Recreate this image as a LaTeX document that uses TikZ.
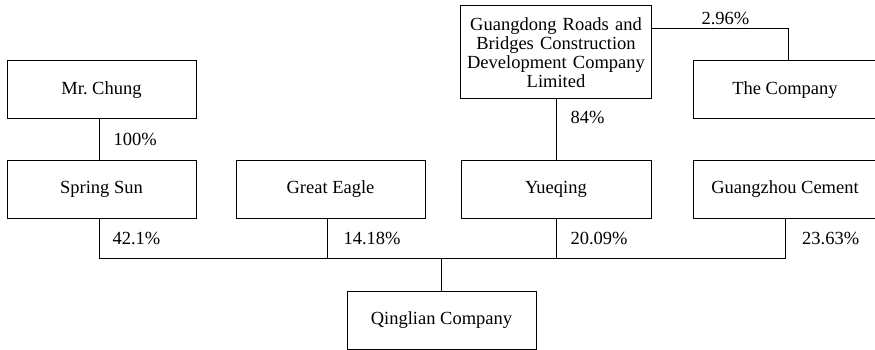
\documentclass[tikz,border=0pt]{standalone}
\usepackage{fontspec}
\setmainfont{Liberation Serif}
\usetikzlibrary{positioning}

\tikzset{
  box/.style={draw, line width=1pt, minimum width=189pt, minimum height=58pt,
    inner sep=2pt, align=center, font=\fontsize{18.5}{19}\selectfont},
  link/.style={line width=1pt},
  pct/.style={anchor=west, inner sep=0pt, xshift=13pt, font=\fontsize{18.5}{19}\selectfont}
}

\begin{document}
\begin{tikzpicture}

  \useasboundingbox (0pt,0pt) rectangle (875pt,-350pt);

  % Define nodes
  \node[box] (spring) at (101.5pt,-189pt) {Spring Sun};
  \node[box, above=40pt of spring] (chung) {Mr.\ Chung};
  \node[box, right=39pt of spring] (eagle) {Great Eagle};
  \node[box, right=35pt of eagle, minimum width=190pt] (yueqing) {Yueqing};
  \node[box, right=41pt of yueqing, minimum width=184pt] (cement) {Guangzhou Cement};
  \node[box, above=40pt of cement, minimum width=184pt] (company) {The Company};
  \node[box, above=60pt of yueqing, minimum width=191pt, minimum height=93pt,
    text width=185pt] (gdrb) {Guangdong Roads and\\Bridges Construction\\Development Company\\Limited};
  \node[box, below=72pt of eagle.south, xshift=111pt, anchor=north] (qinglian) {Qinglian Company};
  \coordinate (bus) at ([xshift=-2.5pt, yshift=-40pt]spring.south);

  % Connect the nodes
  \draw[link] ([xshift=-2.5pt]chung.south) -- node[pct, xshift=1pt] {100\%} ([xshift=-2.5pt]spring.north);
  \draw[link] (gdrb) -- node[pct, pos=0.3, xshift=1pt] {84\%} (yueqing);
  \draw[link] ([yshift=23.5pt]gdrb.east) -| node[above, pos=0.27] {\fontsize{18.5}{19}\selectfont 2.96\%} ([xshift=3pt]company.north);
  \draw[link] ([xshift=-2.5pt]spring.south) -- node[pct] {42.1\%} (bus);
  \draw[link] (bus) -| (cement.south);
  \draw[link] ([xshift=-3.5pt]eagle.south) -- node[pct, xshift=3pt] {14.18\%} ([xshift=-3.5pt]eagle.south |- bus);
  \draw[link] (yueqing.south) -- node[pct, xshift=1pt] {20.09\%} (yueqing.south |- bus);
  \path (cement.south) -- node[pct, xshift=4pt] {23.63\%} (cement.south |- bus);
  \draw[link] (qinglian.north) -- (qinglian.north |- bus);

\end{tikzpicture}
\end{document}
